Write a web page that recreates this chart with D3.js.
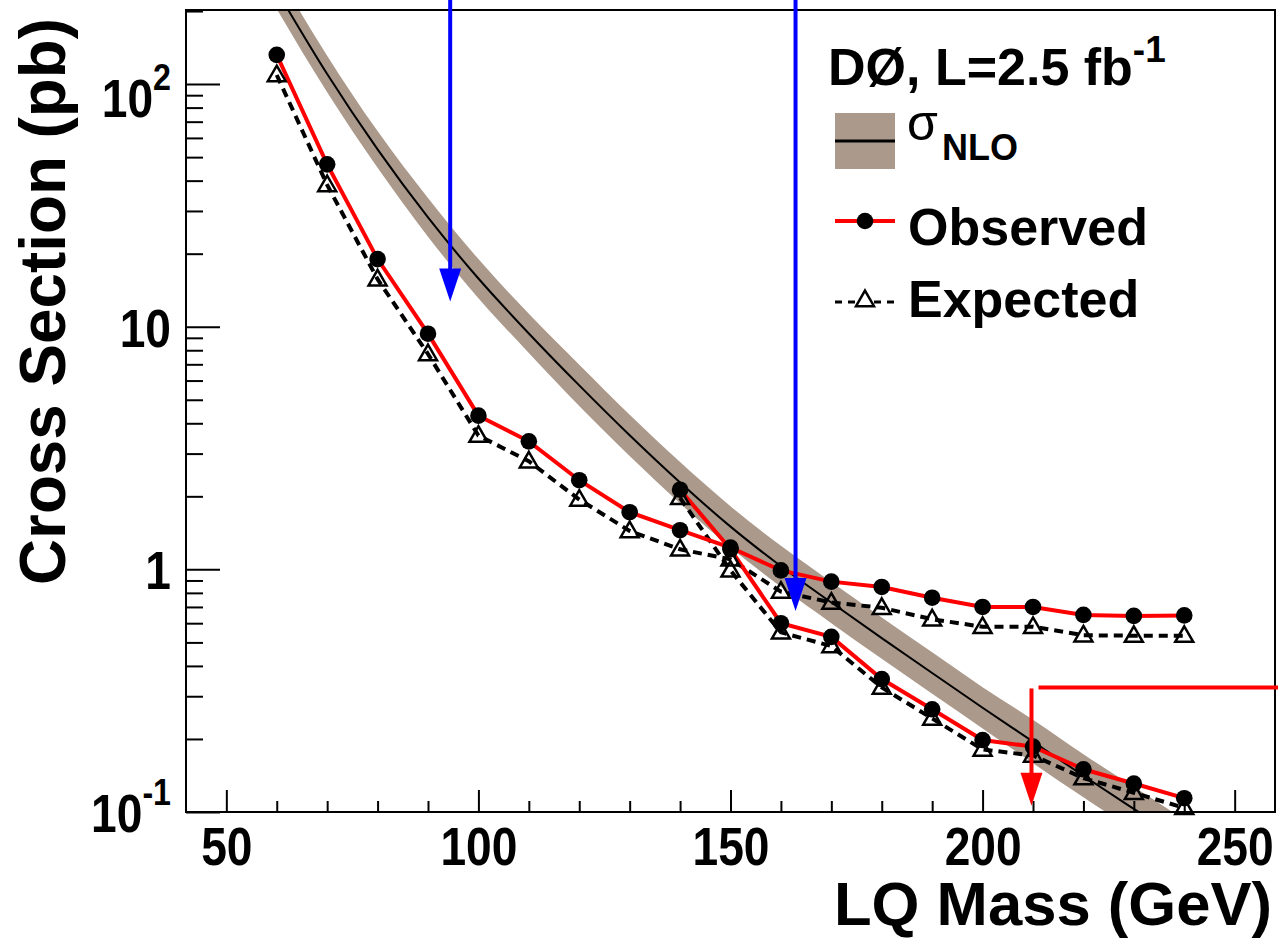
<!DOCTYPE html>
<html>
<head>
<meta charset="utf-8">
<script src="https://cdn.jsdelivr.net/npm/d3@7"></script>
<style>
  body { margin: 0; background: #fff; }
  text { font-family: "Liberation Sans", Arial, Helvetica, sans-serif; font-weight: bold; fill: #000; }
</style>
</head>
<body>
<svg id="chart" width="1278" height="947"></svg>
<script>
// LQ mass points (GeV)
const massesA = [60, 70, 80, 90, 100, 110, 120, 130, 140, 150, 160, 170, 180, 190, 200, 210, 220, 230, 240];
const massesB = [140, 150, 160, 170, 180, 190, 200, 210, 220, 230, 240];

// 95% CL limits (pb)
const observedA = [132, 46.7, 19.0, 9.36, 4.30, 3.37, 2.33, 1.72, 1.45, 1.23, 0.99, 0.89, 0.846, 0.764, 0.70, 0.70, 0.649, 0.643, 0.646];
const expectedA = [109, 38.4, 15.7, 7.72, 3.56, 2.79, 1.94, 1.44, 1.21, 1.10, 0.81, 0.73, 0.695, 0.623, 0.58, 0.58, 0.535, 0.533, 0.533];
const observedB = [2.13, 1.21, 0.60, 0.527, 0.353, 0.265, 0.198, 0.186, 0.150, 0.131, 0.114];
const expectedB = [1.97, 0.99, 0.55, 0.483, 0.326, 0.243, 0.181, 0.171, 0.138, 0.120, 0.104];

// NLO cross section and its band (pb)
const nloMasses = [60, 70, 80, 90, 100, 110, 120, 130, 140, 150, 160, 170, 180, 190, 200, 210, 220, 230, 240, 250];
const nloCentral = [243, 110, 53.8, 28.2, 15.8, 9.38, 5.73, 3.57, 2.28, 1.50, 1.03, 0.730, 0.521, 0.374, 0.269, 0.195, 0.141, 0.103, 0.0755, 0.0556];
const nloHigh = [289, 131, 64.0, 33.9, 19.0, 11.3, 6.97, 4.34, 2.77, 1.82, 1.25, 0.888, 0.634, 0.455, 0.327, 0.240, 0.173, 0.127, 0.093, 0.068];
const nloLow = [204, 92.5, 45.2, 23.5, 13.1, 7.80, 4.71, 2.93, 1.87, 1.23, 0.847, 0.600, 0.428, 0.307, 0.221, 0.159, 0.115, 0.084, 0.061, 0.045];

// limit arrows: mass (GeV), tip and start (pb, null = top of picture)
const arrowMass = [94.4, 162.9, 209.7];
const arrowTip = [12.7, 0.673, 0.106];
const arrowStart = [null, null, 0.323];
const arrowColor = ["#0000ff", "#0000ff", "#ff0000"];

// ticks
const xMajorTicks = [50, 100, 150, 200, 250];
const xMinorTicks = [60, 70, 80, 90, 110, 120, 130, 140, 160, 170, 180, 190, 210, 220, 230, 240];
const yMajorTicks = [0.1, 1, 10, 100];
const yMajorLabels = [["10", "-1"], ["1", ""], ["10", ""], ["10", "2"]];
const yMinorTicks = [0.2, 0.3, 0.4, 0.5, 0.6, 0.7, 0.8, 0.9, 2, 3, 4, 5, 6, 7, 8, 9, 20, 30, 40, 50, 60, 70, 80, 90, 200];

const title = ["DØ, L=2.5 fb", "-1"];
const legendNames = ["NLO", "Observed", "Expected"];

const bandColor = "#ab998b";
const svg = d3.select("#chart");
const plotLeft = 186, plotRight = 1275, plotTop = 10, plotBottom = 812;

const x = d3.scaleLinear().domain([42, 258]).range([plotLeft, plotRight]);
const y = d3.scaleLog().domain([0.1, 202]).range([plotBottom, plotTop]);

svg.append("defs").append("clipPath").attr("id", "plot-clip")
  .append("rect").attr("x", plotLeft).attr("y", plotTop)
  .attr("width", plotRight - plotLeft).attr("height", plotBottom - plotTop);

// NLO band + central line
const nlo = nloMasses.map((m, i) => ({m: m, c: nloCentral[i], hi: nloHigh[i], lo: nloLow[i]}));
const plot = svg.append("g").attr("clip-path", "url(#plot-clip)");
plot.append("path")
  .datum(nlo)
  .attr("fill", bandColor)
  .attr("d", d3.area().curve(d3.curveMonotoneX).x(d => x(d.m)).y0(d => y(d.lo)).y1(d => y(d.hi)));
plot.append("path")
  .datum(nlo)
  .attr("fill", "none")
  .attr("stroke", "#000")
  .attr("stroke-width", 2)
  .attr("d", d3.line().curve(d3.curveMonotoneX).x(d => x(d.m)).y(d => y(d.c)));

// axes (ticks inside the frame)
const xAxisMinor = d3.axisBottom(x).tickValues(xMinorTicks).tickSize(-11).tickFormat("");
const xAxisMajor = d3.axisBottom(x).tickValues(xMajorTicks).tickSize(-22).tickPadding(15).tickFormat(d3.format("d"));
const yAxisMinor = d3.axisLeft(y).tickValues(yMinorTicks).tickSize(-17).tickFormat("");
const yAxisMajor = d3.axisLeft(y).tickValues(yMajorTicks).tickSize(-34).tickFormat("");

function styleAxis(g) {
  g.select(".domain").remove();
  g.selectAll(".tick line").attr("stroke", "#000").attr("stroke-width", 2);
}
svg.append("g").attr("transform", `translate(0,${plotBottom})`).call(xAxisMinor).call(styleAxis);
const xg = svg.append("g").attr("transform", `translate(0,${plotBottom})`).call(xAxisMajor).call(styleAxis);
xg.attr("font-family", null).attr("font-size", null);
xg.selectAll(".tick text")
  .attr("font-size", 53)
  .attr("fill", "#000")
  .attr("transform", "scale(0.87,1)");
svg.append("g").attr("transform", `translate(${plotLeft},0)`).call(yAxisMinor).call(styleAxis);
svg.append("g").attr("transform", `translate(${plotLeft},0)`).call(yAxisMajor).call(styleAxis);

// y tick labels with exponents
yMajorTicks.forEach((v, i) => {
  const lab = yMajorLabels[i];
  const off = lab[1] === "2" ? 33 : 20;
  const t = svg.append("text")
    .attr("transform", `translate(171,${y(v) + off}) scale(0.87,1)`)
    .attr("text-anchor", "end")
    .attr("font-size", 53);
  t.append("tspan").text(lab[0]);
  if (lab[1]) {
    t.append("tspan").attr("font-size", 37).attr("dy", -27).text(lab[1]);
  }
});

// frame
svg.append("rect")
  .attr("x", plotLeft).attr("y", plotTop)
  .attr("width", plotRight - plotLeft).attr("height", plotBottom - plotTop)
  .attr("fill", "none").attr("stroke", "#000").attr("stroke-width", 2);

// limit curves
const line = d3.line().x(d => x(d[0])).y(d => y(d[1]));
const expA = massesA.map((m, i) => [m, expectedA[i]]);
const expB = massesB.map((m, i) => [m, expectedB[i]]);
const obsA = massesA.map((m, i) => [m, observedA[i]]);
const obsB = massesB.map((m, i) => [m, observedB[i]]);

[expA, expB].forEach(s => {
  svg.append("path").datum(s)
    .attr("fill", "none").attr("stroke", "#000").attr("stroke-width", 4)
    .attr("stroke-dasharray", "9,6").attr("d", line);
});
[obsA, obsB].forEach(s => {
  svg.append("path").datum(s)
    .attr("fill", "none").attr("stroke", "#ff0000").attr("stroke-width", 4)
    .attr("d", line);
});

const tri = d3.symbol().type(d3.symbolTriangle).size(140);
svg.append("g").selectAll("path")
  .data(expA.concat(expB))
  .join("path")
  .attr("d", tri)
  .attr("transform", d => `translate(${x(d[0])},${y(d[1]) + 1})`)
  .attr("fill", "none").attr("stroke", "#000").attr("stroke-width", 2.5);
svg.append("g").selectAll("circle")
  .data(obsA.concat(obsB))
  .join("circle")
  .attr("cx", d => x(d[0]))
  .attr("cy", d => y(d[1]))
  .attr("r", 8.3)
  .attr("fill", "#000");

// arrows
arrowMass.forEach((m, i) => {
  const ax = x(m);
  const tipY = y(arrowTip[i]);
  const startY = arrowStart[i] === null ? 0 : y(arrowStart[i]);
  const col = arrowColor[i];
  svg.append("line")
    .attr("x1", ax).attr("x2", ax)
    .attr("y1", startY).attr("y2", tipY - 30)
    .attr("stroke", col).attr("stroke-width", 4);
  svg.append("path")
    .attr("d", `M${ax - 11},${tipY - 33}L${ax + 11},${tipY - 33}L${ax},${tipY}Z`)
    .attr("fill", col);
  if (arrowStart[i] !== null) {
    svg.append("line")
      .attr("x1", ax + 7).attr("x2", 1278)
      .attr("y1", startY - 1).attr("y2", startY - 1)
      .attr("stroke", col).attr("stroke-width", 4);
  }
});

// legend
const t0 = svg.append("text").attr("x", 828).attr("y", 85).attr("font-size", 52);
t0.append("tspan").text(title[0]);
t0.append("tspan").attr("font-size", 37).attr("dy", -23).text(title[1]);

svg.append("rect").attr("x", 835).attr("y", 113).attr("width", 60).attr("height", 56).attr("fill", bandColor);
svg.append("line").attr("x1", 835).attr("x2", 895).attr("y1", 141).attr("y2", 141)
  .attr("stroke", "#000").attr("stroke-width", 3);
svg.append("text").attr("x", 907).attr("y", 140).attr("font-size", 50)
  .style("font-weight", "normal").text("σ");
svg.append("text").attr("x", 942).attr("y", 160).attr("font-size", 36).text(legendNames[0]);

svg.append("line").attr("x1", 835).attr("x2", 895).attr("y1", 221).attr("y2", 221)
  .attr("stroke", "#ff0000").attr("stroke-width", 4);
svg.append("circle").attr("cx", 865).attr("cy", 221).attr("r", 8.3).attr("fill", "#000");
svg.append("text").attr("x", 908).attr("y", 245).attr("font-size", 52).text(legendNames[1]);

svg.append("line").attr("x1", 835).attr("x2", 895).attr("y1", 302).attr("y2", 302)
  .attr("stroke", "#000").attr("stroke-width", 3).attr("stroke-dasharray", "7,6");
svg.append("path").attr("d", tri).attr("transform", "translate(865,301)")
  .attr("fill", "#fff").attr("stroke", "#000").attr("stroke-width", 2.5);
svg.append("text").attr("x", 908).attr("y", 317).attr("font-size", 52).text(legendNames[2]);

// axis titles
svg.append("text")
  .attr("x", 1272).attr("y", 925)
  .attr("text-anchor", "end")
  .attr("font-size", 62)
  .attr("textLength", 438)
  .attr("lengthAdjust", "spacingAndGlyphs")
  .text("LQ Mass (GeV)");
svg.append("text")
  .attr("transform", "translate(65,585) rotate(-90)")
  .attr("font-size", 64)
  .attr("textLength", 567)
  .attr("lengthAdjust", "spacingAndGlyphs")
  .text("Cross Section (pb)");
</script>
</body>
</html>
